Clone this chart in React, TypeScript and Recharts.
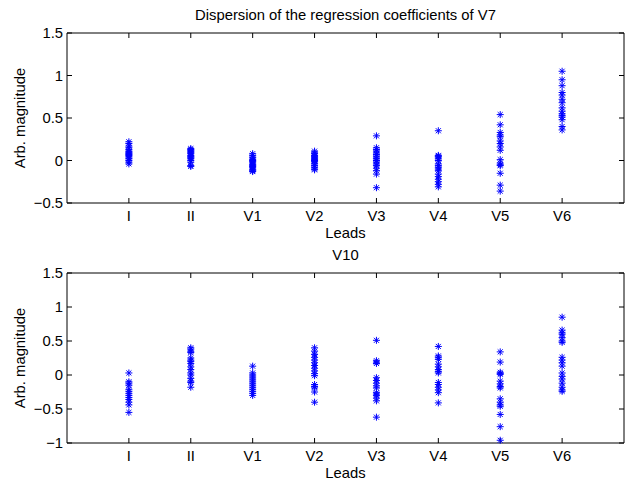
import React from 'react';
import { ScatterChart, Scatter, XAxis, YAxis } from 'recharts';

const leads = ['I', 'II', 'V1', 'V2', 'V3', 'V4', 'V5', 'V6'];

// V7 coefficients per lead
const v7I = [0.22, 0.2, 0.17, 0.15, 0.13, 0.11, 0.1, 0.09, 0.08, 0.07, 0.06, 0.05, 0.03, 0.02, 0.0, -0.02, -0.04];
const v7II = [0.14, 0.13, 0.12, 0.11, 0.1, 0.09, 0.08, 0.06, 0.05, 0.04, 0.03, 0.02, 0.0, -0.02, -0.06, -0.07];
const v7V1 = [0.08, 0.06, 0.04, 0.03, 0.01, 0.0, -0.01, -0.02, -0.04, -0.05, -0.06, -0.07, -0.08, -0.1, -0.11, -0.12, -0.13];
const v7V2 = [0.11, 0.09, 0.08, 0.06, 0.05, 0.04, 0.03, 0.02, 0.01, 0.0, -0.01, -0.03, -0.04, -0.06, -0.08, -0.1, -0.11];
const v7V3 = [0.29, 0.15, 0.13, 0.11, 0.09, 0.07, 0.05, 0.03, 0.02, 0.0, -0.02, -0.04, -0.06, -0.09, -0.12, -0.16, -0.32];
const v7V4 = [0.35, 0.06, 0.05, 0.04, 0.02, 0.0, -0.04, -0.06, -0.08, -0.1, -0.12, -0.16, -0.19, -0.22, -0.25, -0.28, -0.31];
const v7V5 = [0.54, 0.42, 0.33, 0.3, 0.28, 0.23, 0.2, 0.16, 0.12, 0.01, -0.03, -0.05, -0.06, -0.15, -0.29, -0.36];
const v7V6 = [1.05, 0.95, 0.88, 0.8, 0.77, 0.72, 0.68, 0.62, 0.58, 0.55, 0.53, 0.51, 0.48, 0.4, 0.36];

// V10 coefficients per lead
const v10I = [0.03, -0.1, -0.12, -0.15, -0.21, -0.24, -0.27, -0.3, -0.33, -0.36, -0.4, -0.44, -0.55];
const v10II = [0.4, 0.38, 0.35, 0.33, 0.25, 0.22, 0.2, 0.17, 0.12, 0.08, 0.03, 0.0, -0.05, -0.09, -0.11, -0.18];
const v10V1 = [0.13, 0.03, 0.0, -0.03, -0.06, -0.09, -0.12, -0.15, -0.18, -0.21, -0.24, -0.27, -0.3];
const v10V2 = [0.4, 0.35, 0.3, 0.26, 0.22, 0.18, 0.14, 0.1, 0.06, 0.02, -0.01, -0.14, -0.17, -0.19, -0.25, -0.4];
const v10V3 = [0.51, 0.21, 0.19, 0.17, -0.04, -0.08, -0.12, -0.16, -0.19, -0.26, -0.28, -0.3, -0.34, -0.38, -0.62];
const v10V4 = [0.42, 0.28, 0.26, 0.23, 0.16, 0.12, 0.08, 0.05, 0.03, -0.11, -0.14, -0.18, -0.22, -0.26, -0.41];
const v10V5 = [0.34, 0.19, 0.04, 0.02, 0.01, -0.09, -0.13, -0.17, -0.19, -0.35, -0.4, -0.44, -0.46, -0.58, -0.76, -0.96];
const v10V6 = [0.85, 0.66, 0.62, 0.6, 0.55, 0.5, 0.48, 0.26, 0.22, 0.18, 0.13, 0.03, -0.02, -0.06, -0.12, -0.18, -0.22, -0.24];

const v7Ticks = [-0.5, 0, 0.5, 1, 1.5];
const v10Ticks = [-1, -0.5, 0, 0.5, 1, 1.5];
const xTicks = [1, 2, 3, 4, 5, 6, 7, 8];

const FONT = '"Liberation Sans", Arial, sans-serif';
const FS = 14.8;
const BLUE = '#0000ff';

const toPoints = (cols: number[][]) =>
  cols.flatMap((vals, i) => vals.map((v) => ({ x: i + 1, y: v })));

// MATLAB style '*' marker
const Star = (props: any) => {
  const { cx, cy } = props;
  if (cx == null || cy == null) return null;
  const r = 3.5;
  const d = r * 0.72;
  return (
    <g stroke={BLUE} strokeWidth={1}>
      <line x1={cx - r} y1={cy} x2={cx + r} y2={cy} />
      <line x1={cx} y1={cy - r} x2={cx} y2={cy + r} />
      <line x1={cx - d} y1={cy - d} x2={cx + d} y2={cy + d} />
      <line x1={cx - d} y1={cy + d} x2={cx + d} y2={cy - d} />
    </g>
  );
};

const fmtY = (v: number) => String(v).replace('-', '\u2212');
const fmtX = (v: number) => leads[v - 1] ?? '';
const blank = () => '';

const tickStyle = { fill: '#000', fontSize: FS, fontFamily: FONT };

interface PanelProps {
  title: string;
  points: { x: number; y: number }[];
  domain: [number, number];
  ticks: number[];
}

const Panel: React.FC<PanelProps> = ({ title, points, domain, ticks }) => (
  <ScatterChart width={638} height={240} margin={{ top: 32, right: 13, left: 0, bottom: 0 }}>
    <XAxis
      xAxisId="b"
      type="number"
      dataKey="x"
      domain={[0, 9]}
      ticks={xTicks}
      tickFormatter={fmtX}
      height={37}
      tickSize={-5}
      tickMargin={12}
      stroke="#000"
      tick={tickStyle}
      label={{ value: 'Leads', position: 'center', dy: 11, fill: '#000', fontSize: FS, fontFamily: FONT }}
    />
    <XAxis
      xAxisId="t"
      orientation="top"
      type="number"
      dataKey="x"
      domain={[0, 9]}
      ticks={xTicks}
      tickFormatter={blank}
      height={1}
      tickSize={-5}
      stroke="#000"
      label={{ value: title, position: 'top', offset: 12, fill: '#000', fontSize: FS, fontFamily: FONT }}
    />
    <YAxis
      yAxisId="l"
      type="number"
      dataKey="y"
      domain={domain}
      ticks={ticks}
      tickFormatter={fmtY}
      width={67}
      tickSize={-5}
      tickMargin={9}
      stroke="#000"
      tick={tickStyle}
      label={{ value: 'Arb. magnitude', angle: -90, position: 'center', dx: -14, fill: '#000', fontSize: FS, fontFamily: FONT }}
    />
    <YAxis
      yAxisId="r"
      orientation="right"
      type="number"
      dataKey="y"
      domain={domain}
      ticks={ticks}
      tickFormatter={blank}
      width={1}
      tickSize={-5}
      stroke="#000"
    />
    <Scatter data={points} xAxisId="b" yAxisId="l" shape={<Star />} isAnimationActive={false} />
    <Scatter data={points} xAxisId="t" yAxisId="r" shape={() => null} isAnimationActive={false} />
  </ScatterChart>
);

export default function App() {
  const top = toPoints([v7I, v7II, v7V1, v7V2, v7V3, v7V4, v7V5, v7V6]);
  const bottom = toPoints([v10I, v10II, v10V1, v10V2, v10V3, v10V4, v10V5, v10V6]);
  return (
    <div style={{ position: 'absolute', left: 0, top: 0, width: 638, height: 480, background: '#fff' }}>
      <Panel title="Dispersion of the regression coefficients of V7" points={top} domain={[-0.5, 1.5]} ticks={v7Ticks} />
      <Panel title="V10" points={bottom} domain={[-1, 1.5]} ticks={v10Ticks} />
    </div>
  );
}
